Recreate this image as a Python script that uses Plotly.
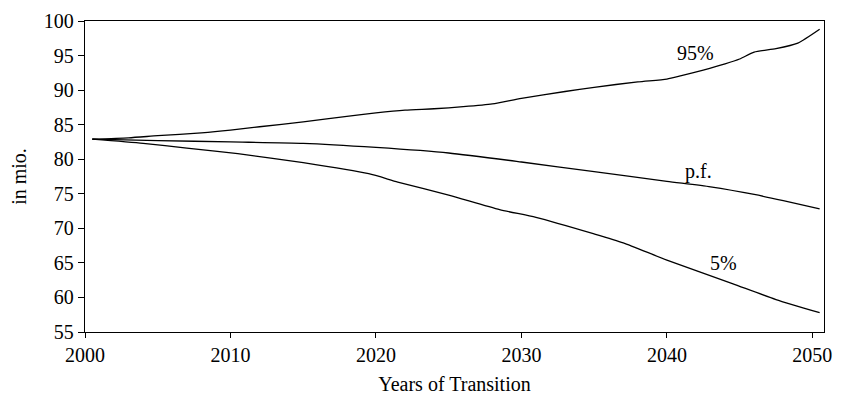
import plotly.graph_objects as go

# Data
years_95 = [2000.5, 2003, 2005, 2008, 2010, 2012, 2015, 2018, 2020, 2022, 2024, 2026, 2028,
            2030, 2033, 2035, 2038, 2040, 2041, 2042.5, 2044, 2045, 2046, 2047.5, 2049, 2050.5]
vals_95 = [82.9, 83.1, 83.4, 83.8, 84.2, 84.7, 85.4, 86.2, 86.7, 87.1, 87.3, 87.6, 88.0,
           88.8, 89.8, 90.4, 91.2, 91.6, 92.1, 92.9, 93.8, 94.5, 95.5, 96.0, 96.8, 98.8]

years_pf = [2000.5, 2005, 2010, 2015, 2020, 2025, 2030, 2035, 2040, 2043, 2046, 2048, 2050.5]
vals_pf = [82.9, 82.7, 82.5, 82.3, 81.7, 80.9, 79.6, 78.2, 76.8, 76.0, 74.9, 74.0, 72.8]

years_5 = [2000.5, 2004, 2007, 2010.5, 2015, 2019.5, 2021.5, 2025, 2028.5, 2031, 2035,
           2037, 2040, 2044.5, 2047.5, 2050.5]
vals_5 = [82.9, 82.3, 81.6, 80.8, 79.5, 77.9, 76.7, 74.8, 72.7, 71.6, 69.2,
          67.9, 65.4, 62.0, 59.7, 57.8]

labels = ["95%", "p.f.", "5%"]
label_x = [2042.0, 2042.2, 2043.9]
label_y = [95.3, 78.25, 64.95]

x_ticks = [2000, 2010, 2020, 2030, 2040, 2050]
y_ticks = [55, 60, 65, 70, 75, 80, 85, 90, 95, 100]

FONT = "Liberation Serif, Times New Roman, serif"

fig = go.Figure()
for xs, ys in [(years_95, vals_95), (years_pf, vals_pf), (years_5, vals_5)]:
    fig.add_trace(go.Scatter(x=xs, y=ys, mode="lines",
                             line=dict(color="black", width=1.3, shape="spline", smoothing=0.6),
                             showlegend=False, hoverinfo="skip"))

for t, x, y in zip(labels, label_x, label_y):
    fig.add_annotation(x=x, y=y, text=t, showarrow=False,
                       font=dict(family=FONT, size=20, color="black"))

fig.update_layout(
    width=842, height=401,
    margin=dict(l=85, r=10, t=13, b=67),
    paper_bgcolor="white", plot_bgcolor="white",
    font=dict(family=FONT, size=20, color="black"),
)
fig.update_xaxes(range=[2000, 2050.8], tickvals=x_ticks, ticks="outside", ticklen=5,
                 tickcolor="black", showline=True, linecolor="black", linewidth=1.3,
                 mirror=True, showgrid=False, zeroline=False,
                 ticklabeloverflow="allow",
                 tickfont=dict(family=FONT, size=20),
                 title=dict(text="Years of Transition", standoff=11,
                            font=dict(family=FONT, size=20)))
fig.update_yaxes(range=[55, 100], tickvals=y_ticks, ticks="outside", ticklen=6,
                 tickcolor="black", showline=True, linecolor="black", linewidth=1.3,
                 mirror=True, showgrid=False, zeroline=False,
                 ticklabeloverflow="allow",
                 tickfont=dict(family=FONT, size=20),
                 title=dict(text="in mio.", standoff=11, font=dict(family=FONT, size=20)))

# remove the default 8px page margin so the figure fills the 842x401 window exactly
fig.write_html("out.html",
               config={"displayModeBar": False, "staticPlot": True},
               post_script="document.body.style.margin='0';document.body.style.overflow='hidden';")
